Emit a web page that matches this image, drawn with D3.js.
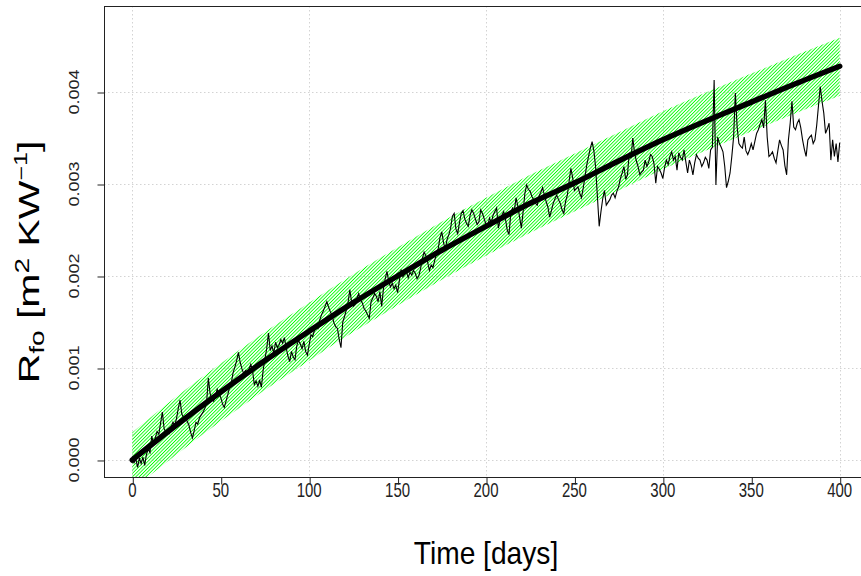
<!DOCTYPE html>
<html>
<head>
<meta charset="utf-8">
<script src="https://cdn.jsdelivr.net/npm/d3@7"></script>
<style>
  html, body { margin: 0; padding: 0; background: #fff; }
  svg { display: block; font-family: "Liberation Sans", Arial, sans-serif; }
</style>
</head>
<body>
<svg id="chart" width="861" height="576"></svg>
<script>
// ---------------- data ----------------
const xTicks = [0, 50, 100, 150, 200, 250, 300, 350, 400];
const yTicks = [0.000, 0.001, 0.002, 0.003, 0.004];
const yTickLabels = ["0.000", "0.001", "0.002", "0.003", "0.004"];
const xGrid = [0, 100, 200, 300, 400];

// model curve and confidence band (days)
const modelDays  = [0, 25, 50, 75, 100, 125, 150, 175, 200, 225, 250, 275, 300, 325, 350, 375, 400];
const modelFit   = [0.00000, 0.00038, 0.00074, 0.00108, 0.00140, 0.00171, 0.00200, 0.00228, 0.00254, 0.00279, 0.00301, 0.00325, 0.00348, 0.00369, 0.00389, 0.00409, 0.00428];
const bandUpper  = [0.00030, 0.00069, 0.00105, 0.00139, 0.00171, 0.00202, 0.00231, 0.00259, 0.00285, 0.00310, 0.00333, 0.00356, 0.00379, 0.00400, 0.00420, 0.00440, 0.00459];
const bandLower  = [-0.00032, 0.00006, 0.00042, 0.00076, 0.00108, 0.00139, 0.00168, 0.00196, 0.00222, 0.00247, 0.00270, 0.00293, 0.00316, 0.00337, 0.00357, 0.00377, 0.00396];

// measured fouling resistance, daily from day 0 to day 400
const measuredStartDay = 0;
const measured = [
0.00004,-0.00003,0.00001,-0.00008,0.00002,-0.00004,0.00003,-0.00006,0.00006,0.00012,
0.00008,0.00026,0.00018,0.00024,0.00031,0.00028,0.00040,0.00052,0.00034,0.00030,
0.00033,0.00029,0.00036,0.00041,0.00038,0.00045,0.00056,0.00065,0.00050,0.00046,
0.00048,0.00042,0.00038,0.00030,0.00024,0.00032,0.00041,0.00039,0.00046,0.00049,
0.00052,0.00056,0.00062,0.00089,0.00072,0.00066,0.00064,0.00070,0.00077,0.00072,
0.00068,0.00061,0.00057,0.00064,0.00071,0.00079,0.00084,0.00095,0.00101,0.00108,
0.00117,0.00106,0.00099,0.00094,0.00097,0.00093,0.00099,0.00104,0.00097,0.00082,
0.00086,0.00080,0.00087,0.00079,0.00098,0.00110,0.00121,0.00138,0.00119,0.00124,
0.00116,0.00128,0.00122,0.00125,0.00131,0.00127,0.00133,0.00122,0.00113,0.00107,
0.00118,0.00112,0.00109,0.00124,0.00130,0.00126,0.00121,0.00129,0.00118,0.00114,
0.00125,0.00136,0.00134,0.00141,0.00146,0.00143,0.00152,0.00158,0.00162,0.00167,
0.00172,0.00166,0.00161,0.00157,0.00149,0.00145,0.00143,0.00131,0.00122,0.00150,
0.00156,0.00163,0.00171,0.00185,0.00172,0.00167,0.00169,0.00176,0.00181,0.00174,
0.00171,0.00165,0.00162,0.00158,0.00154,0.00172,0.00176,0.00181,0.00178,0.00172,
0.00183,0.00167,0.00186,0.00197,0.00205,0.00194,0.00188,0.00192,0.00186,0.00190,
0.00182,0.00195,0.00207,0.00199,0.00202,0.00205,0.00198,0.00204,0.00201,0.00206,
0.00203,0.00197,0.00200,0.00208,0.00219,0.00226,0.00222,0.00215,0.00206,0.00212,
0.00209,0.00217,0.00224,0.00230,0.00242,0.00248,0.00236,0.00229,0.00240,0.00245,
0.00252,0.00265,0.00268,0.00251,0.00246,0.00258,0.00268,0.00271,0.00262,0.00257,
0.00254,0.00266,0.00272,0.00268,0.00262,0.00256,0.00259,0.00272,0.00268,0.00262,
0.00256,0.00255,0.00263,0.00258,0.00266,0.00270,0.00274,0.00252,0.00261,0.00266,
0.00270,0.00262,0.00250,0.00245,0.00268,0.00274,0.00271,0.00285,0.00276,0.00264,
0.00252,0.00270,0.00290,0.00299,0.00294,0.00292,0.00286,0.00283,0.00279,0.00277,
0.00287,0.00291,0.00296,0.00288,0.00281,0.00275,0.00264,0.00271,0.00279,0.00284,
0.00288,0.00283,0.00279,0.00272,0.00268,0.00281,0.00288,0.00303,0.00317,0.00307,
0.00293,0.00295,0.00297,0.00290,0.00285,0.00296,0.00308,0.00321,0.00330,0.00339,
0.00346,0.00336,0.00318,0.00286,0.00254,0.00270,0.00284,0.00293,0.00277,0.00280,
0.00283,0.00288,0.00290,0.00285,0.00292,0.00297,0.00306,0.00312,0.00319,0.00305,
0.00310,0.00334,0.00328,0.00350,0.00334,0.00325,0.00319,0.00310,0.00313,0.00315,
0.00326,0.00319,0.00324,0.00332,0.00330,0.00322,0.00301,0.00319,0.00316,0.00312,
0.00306,0.00318,0.00326,0.00321,0.00330,0.00335,0.00326,0.00330,0.00315,0.00334,
0.00329,0.00326,0.00337,0.00324,0.00312,0.00326,0.00320,0.00310,0.00323,0.00332,
0.00328,0.00326,0.00319,0.00323,0.00329,0.00326,0.00317,0.00337,0.00340,0.00413,
0.00299,0.00351,0.00344,0.00340,0.00335,0.00319,0.00296,0.00303,0.00312,0.00330,
0.00351,0.00399,0.00362,0.00344,0.00341,0.00339,0.00351,0.00336,0.00332,0.00337,
0.00344,0.00337,0.00346,0.00355,0.00359,0.00365,0.00370,0.00361,0.00391,0.00351,
0.00330,0.00332,0.00335,0.00328,0.00323,0.00336,0.00348,0.00342,0.00337,0.00320,
0.00310,0.00348,0.00366,0.00390,0.00362,0.00359,0.00366,0.00370,0.00361,0.00348,
0.00338,0.00330,0.00348,0.00351,0.00353,0.00344,0.00348,0.00364,0.00385,0.00406,
0.00390,0.00377,0.00355,0.00360,0.00366,0.00326,0.00348,0.00330,0.00344,0.00324,
0.00345
];

// ---------------- layout ----------------
const svg = d3.select("#chart");
const plot = { left: 104, top: 6, right: 868, bottom: 477 };

const x = d3.scaleLinear().domain([-16, 416]).range([plot.left, plot.right]);
const y = d3.scaleLinear().domain([-0.000185, 0.004935]).range([plot.bottom, plot.top]);

// text in the reference is stretched vertically (tall, narrow glyphs)
const xTickFontV = 20, xTickSX = 0.75;    // x tick labels
const yTickFontV = 18, yTickSX = 0.85;    // y tick labels (rotated)
const xTitleFontV = 32, xTitleSX = 0.88;  // x title
const yTitleFontV = 41, yTitleSX = 0.70;  // y title (rotated)

const defs = svg.append("defs");
defs.append("clipPath").attr("id", "clip")
  .append("rect")
  .attr("x", plot.left).attr("y", plot.top)
  .attr("width", plot.right - plot.left).attr("height", plot.bottom - plot.top);

const pat = defs.append("pattern")
  .attr("id", "hatch")
  .attr("patternUnits", "userSpaceOnUse")
  .attr("width", 2.4).attr("height", 10)
  .attr("patternTransform", "rotate(45)");
pat.append("line")
  .attr("x1", 1.2).attr("y1", -1).attr("x2", 1.2).attr("y2", 11)
  .attr("stroke", "#00ff00").attr("stroke-width", 0.9);

// grid
const grid = svg.append("g").attr("stroke", "#d3d3d3").attr("stroke-width", 1)
  .attr("stroke-dasharray", "1.5,2.5").attr("fill", "none");
grid.selectAll("line.v").data(xGrid).join("line")
  .attr("x1", d => Math.round(x(d)) + 0.5).attr("x2", d => Math.round(x(d)) + 0.5)
  .attr("y1", plot.top).attr("y2", plot.bottom);
grid.selectAll("line.h").data(yTicks).join("line")
  .attr("y1", d => Math.round(y(d)) + 0.5).attr("y2", d => Math.round(y(d)) + 0.5)
  .attr("x1", plot.left).attr("x2", plot.right);

const g = svg.append("g").attr("clip-path", "url(#clip)");

// band
const bandData = modelDays.map((d, i) => ({ d, lo: bandLower[i], hi: bandUpper[i] }));
const area = d3.area()
  .x(p => x(p.d)).y0(p => y(p.lo)).y1(p => y(p.hi))
  .curve(d3.curveMonotoneX);
g.append("path").datum(bandData).attr("d", area).attr("fill", "url(#hatch)").attr("stroke", "none");

// measured
const measData = measured.map((v, i) => ({ d: measuredStartDay + i, v }));
const line = d3.line().x(p => x(p.d)).y(p => y(p.v));
g.append("path").datum(measData).attr("d", line)
  .attr("fill", "none").attr("stroke", "#000").attr("stroke-width", 1.1);

// model curve
const fitData = modelDays.map((d, i) => ({ d, v: modelFit[i] }));
const fitLine = d3.line().x(p => x(p.d)).y(p => y(p.v)).curve(d3.curveMonotoneX);
g.append("path").datum(fitData).attr("d", fitLine)
  .attr("fill", "none").attr("stroke", "#000").attr("stroke-width", 5.5)
  .attr("stroke-linecap", "round").attr("stroke-linejoin", "round");

// box
svg.append("rect")
  .attr("x", plot.left + 0.5).attr("y", plot.top + 0.5)
  .attr("width", plot.right - plot.left).attr("height", plot.bottom - plot.top)
  .attr("fill", "none").attr("stroke", "#222").attr("stroke-width", 1);

// x axis (ticks through d3 axis, labels drawn stretched)
const xAxis = d3.axisBottom(x).tickValues(xTicks).tickSize(7).tickFormat("");
const xg = svg.append("g").attr("transform", `translate(0.5,${plot.bottom + 0.5})`).call(xAxis);
xg.select(".domain").remove();
xg.selectAll("line").attr("stroke", "#222");
svg.append("g").selectAll("text").data(xTicks).join("text")
  .attr("transform", d => `translate(${x(d)},497) scale(${xTickSX},1)`)
  .attr("text-anchor", "middle").attr("font-size", xTickFontV).attr("fill", "#222")
  .text(d => d3.format("d")(d));

// y axis
const yAxis = d3.axisLeft(y).tickValues(yTicks).tickSize(7).tickFormat("");
const yg = svg.append("g").attr("transform", `translate(${plot.left + 0.5},0.5)`).call(yAxis);
yg.select(".domain").remove();
yg.selectAll("line").attr("stroke", "#222");
svg.append("g").selectAll("text").data(yTicks).join("text")
  .attr("transform", d => `translate(79,${y(d)}) scale(${yTickSX},1) rotate(-90)`)
  .attr("text-anchor", "middle").attr("font-size", yTickFontV).attr("fill", "#222")
  .text((d, i) => yTickLabels[i]);

// axis titles
svg.append("text")
  .attr("transform", `translate(${x(200)},564) scale(${xTitleSX},1)`)
  .attr("text-anchor", "middle").attr("font-size", xTitleFontV).attr("fill", "#000")
  .text("Time [days]");

const yt = svg.append("text")
  .attr("transform", `translate(39,262) scale(${yTitleSX},1) rotate(-90)`)
  .attr("text-anchor", "middle").attr("font-size", yTitleFontV).attr("fill", "#000");
yt.append("tspan").text("R");
yt.append("tspan").attr("font-size", 28).attr("dy", 7).text("fo");
yt.append("tspan").attr("dy", -7).text(" [m");
yt.append("tspan").attr("font-size", 28).attr("dy", -14).text("2");
yt.append("tspan").attr("dy", 14).text(" KW");
yt.append("tspan").attr("font-size", 25).attr("dy", -17).text("\u22121");
yt.append("tspan").attr("dy", 17).text("]");
</script>
</body>
</html>
